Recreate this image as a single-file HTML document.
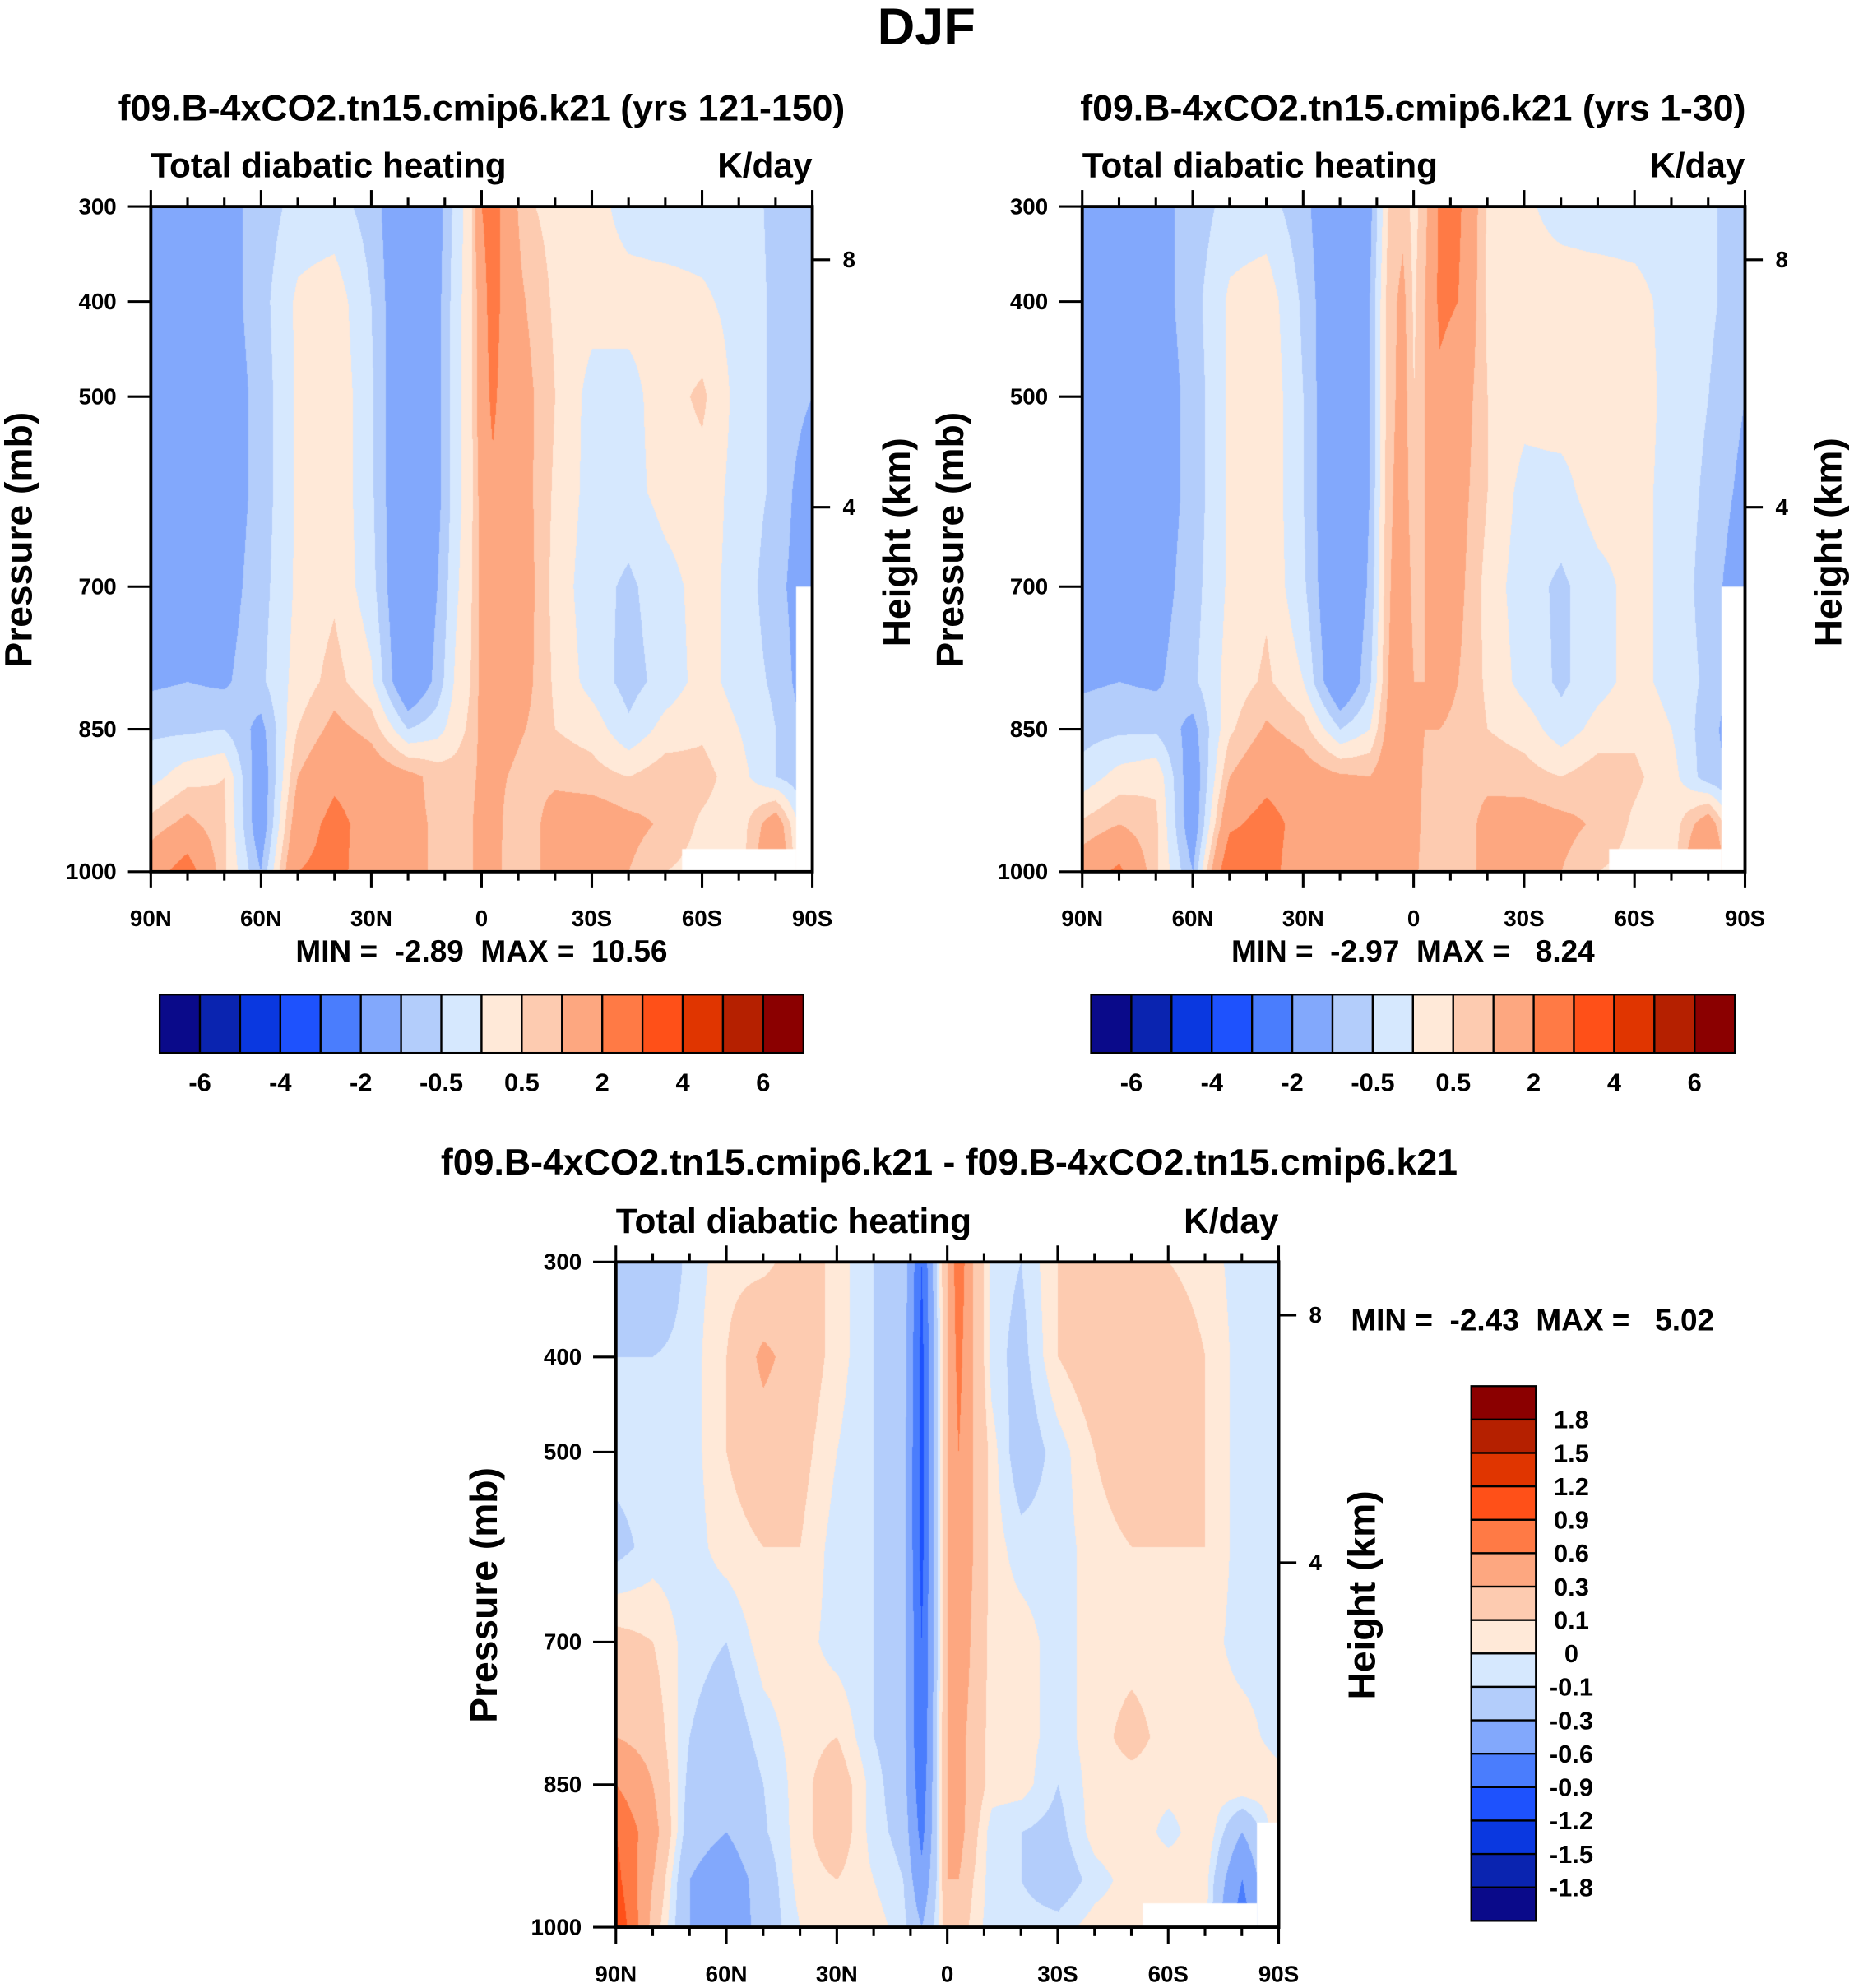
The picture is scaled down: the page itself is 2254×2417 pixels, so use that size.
<!DOCTYPE html>
<html><head><meta charset="utf-8">
<style>
html,body{margin:0;padding:0;background:#fff;}
#wrap{position:relative;width:2254px;height:2417px;overflow:hidden;background:#fff;}
canvas{position:absolute;}
svg{position:absolute;left:0;top:0;}
text{font-family:"Liberation Sans",Arial,sans-serif;font-weight:bold;fill:#000;}
</style></head>
<body>
<div id="wrap">
<svg id="svg" width="2254" height="2417" viewBox="0 0 1463 1569" preserveAspectRatio="none">
<text x="731" y="35" font-size="41" text-anchor="middle">DJF</text>
<text x="380" y="95" font-size="29" text-anchor="middle">f09.B-4xCO2.tn15.cmip6.k21 (yrs 121-150)</text>
<text x="1115" y="95" font-size="29" text-anchor="middle">f09.B-4xCO2.tn15.cmip6.k21 (yrs 1-30)</text>
<text x="749" y="927" font-size="29" text-anchor="middle">f09.B-4xCO2.tn15.cmip6.k21 - f09.B-4xCO2.tn15.cmip6.k21</text>
<text x="119" y="140" font-size="27.5">Total diabatic heating</text>
<text x="641" y="140" font-size="27.5" text-anchor="end">K/day</text>
<text x="854" y="140" font-size="27.5">Total diabatic heating</text>
<text x="1377" y="140" font-size="27.5" text-anchor="end">K/day</text>
<text x="486" y="973" font-size="27.5">Total diabatic heating</text>
<text x="1009" y="973" font-size="27.5" text-anchor="end">K/day</text>
<text x="380" y="759" font-size="24" text-anchor="middle" xml:space="preserve">MIN =  -2.89  MAX =  10.56</text>
<text x="1115" y="759" font-size="24" text-anchor="middle" xml:space="preserve">MIN =  -2.97  MAX =   8.24</text>
<text x="1066" y="1050" font-size="24" xml:space="preserve">MIN =  -2.43  MAX =   5.02</text>
<text transform="translate(25,426) rotate(-90)" font-size="30" text-anchor="middle">Pressure (mb)</text>
<text transform="translate(760,426) rotate(-90)" font-size="30" text-anchor="middle">Pressure (mb)</text>
<text transform="translate(392,1259) rotate(-90)" font-size="30" text-anchor="middle">Pressure (mb)</text>
<text transform="translate(718,428) rotate(-90)" font-size="30" text-anchor="middle">Height (km)</text>
<text transform="translate(1453,428) rotate(-90)" font-size="30" text-anchor="middle">Height (km)</text>
<text transform="translate(1085,1259) rotate(-90)" font-size="30" text-anchor="middle">Height (km)</text>
</svg>
</div>
<script>
// ---------- data ----------
const lats = [90,80,70,60,50,40,30,20,12,7,3,0,-3,-7,-12,-20,-30,-40,-50,-60,-70,-80,-90];
const pressures = [300,400,500,600,700,800,850,900,950,1000];
const fieldA = [
[-1.0,-1.2,-1.2,-0.8,-0.3,-0.3,-0.7,-1.8,-1.3,-0.3,0.3,2.0,2.5,1.5,0.6,0.3,0.2,-0.2,-0.3,-0.3,-0.3,-0.6,-1],
[-1.6,-1.6,-1.3,-0.7,0.1,0.3,-0.5,-1.8,-1.2,-0.2,0.3,1.5,2.5,1.5,1.0,0.4,0.2,0.2,0.2,0.1,-0.2,-0.6,-1],
[-1.7,-1.7,-1.4,-0.8,0.1,0.4,-0.4,-1.9,-1.2,-0.2,0.3,1.5,2.2,1.5,1.2,0.5,-0.2,-0.2,0.3,0.6,-0.2,-0.6,-1],
[-1.8,-1.7,-1.4,-0.8,0.1,0.4,-0.4,-1.9,-1.2,-0.2,0.3,1.3,1.8,1.5,1.2,0.4,-0.2,-0.2,0.2,0.3,-0.2,-0.6,-1.5],
[-1.6,-1.5,-1.3,-0.7,0.1,0.4,-0.3,-1.9,-1.0,-0.1,0.4,1.2,1.5,1.5,1.3,0.3,-0.3,-0.6,-0.2,0.2,-0.2,-0.8,-1.5],
[-1.1,-1.0,-1.1,-0.6,0.2,0.7,0.1,-1.8,-0.8,0.1,0.5,1.2,1.4,1.4,1.2,0.4,-0.2,-0.7,-0.3,0.2,-0.2,-0.6,-1.5],
[-0.6,-0.6,-0.5,-1.2,0.5,1.2,0.8,-0.5,-0.2,0.3,0.6,1.2,1.3,1.2,1.0,0.5,0.3,-0.4,0.2,0.4,0.0,-0.5,-1.2],
[-0.2,0.3,0.5,-1.5,1.0,1.8,1.5,1.2,0.8,0.7,0.8,1.2,1.3,1.0,0.8,0.8,0.7,0.5,0.8,0.7,0.2,-0.5,-1],
[0.7,1.2,0.6,-1.5,1.5,2.3,1.6,1.2,0.9,0.8,0.9,1.4,1.4,0.8,0.5,1.5,1.5,1.2,0.9,0.4,0.2,1.5,-1],
[1.5,2.5,0.6,-1.0,2.0,2.3,1.5,1.2,0.9,0.8,0.9,1.3,1.3,0.8,0.5,1.5,1.4,1.0,0.5,0.3,0.2,2.0,-1]
];
const fieldB = [
[-1.0,-1.2,-1.2,-0.8,-0.3,-0.3,-0.8,-1.8,-1.2,0.5,0.8,0.3,0.8,2.2,2.2,0.4,0.1,-0.2,-0.3,-0.3,-0.3,-0.4,-0.8],
[-1.6,-1.6,-1.3,-0.7,0.1,0.3,-0.6,-1.8,-1.0,0.7,1.2,0.4,1.0,2.2,2.0,0.4,0.2,0.3,0.3,0.2,-0.2,-0.4,-0.8],
[-1.7,-1.7,-1.4,-0.8,0.1,0.4,-0.5,-1.9,-1.0,0.7,1.3,0.5,1.0,1.8,1.5,0.5,0.2,0.3,0.3,0.3,-0.2,-0.5,-1],
[-1.8,-1.7,-1.4,-0.8,0.1,0.4,-0.5,-1.9,-1.0,0.8,1.4,0.6,1.0,1.5,1.3,0.5,-0.2,-0.2,0.3,0.2,-0.2,-0.6,-1.2],
[-1.6,-1.5,-1.3,-0.7,0.1,0.4,-0.4,-1.9,-0.9,0.9,1.5,0.8,1.0,1.4,1.2,0.3,-0.3,-0.6,-0.2,0.2,-0.2,-0.7,-1.5],
[-1.1,-1.0,-1.1,-0.6,0.2,0.6,0.0,-1.8,-0.6,1.0,1.6,1.0,1.0,1.2,1.0,0.4,-0.2,-0.6,-0.2,0.2,-0.2,-0.6,-1.5],
[-0.7,-0.6,-0.6,-1.2,0.4,1.1,0.7,-0.5,0.0,1.2,1.8,1.2,1.0,1.0,0.9,0.5,0.3,-0.3,0.2,0.4,0.0,-0.8,-1.5],
[-0.3,0.2,0.4,-1.5,1.0,1.7,1.4,1.1,1.0,1.5,2.0,1.3,0.9,0.8,0.7,0.8,0.7,0.5,0.8,0.6,0.2,-0.8,-1.2],
[0.6,1.0,0.6,-1.5,1.8,2.4,1.6,1.2,1.1,1.6,2.0,1.3,0.8,0.6,0.5,1.3,1.4,1.2,0.9,0.4,0.2,1.5,-1],
[1.5,2.2,0.6,-1.0,3.0,2.3,1.5,1.2,1.1,1.6,2.0,1.2,0.7,0.6,0.5,1.3,1.3,1.0,0.5,0.3,0.2,2.5,-1]
];
const fieldDiff = [
[-0.2,-0.3,-0.05,0.05,0.05,0.2,0.05,-0.1,-0.15,-0.9,-0.1,0.3,0.8,0.3,-0.05,-0.1,0.1,0.2,0.2,0.1,0.05,-0.05,-0.05],
[-0.1,-0.1,-0.05,0.1,0.35,0.2,0.05,-0.1,-0.15,-1.0,-0.15,0.3,0.7,0.3,-0.05,-0.15,0.1,0.2,0.3,0.2,0.1,-0.05,-0.05],
[-0.05,-0.05,-0.05,0.1,0.2,0.15,0.0,-0.1,-0.2,-1.0,-0.15,0.3,0.6,0.3,0.05,-0.2,-0.05,0.1,0.2,0.25,0.1,-0.05,-0.05],
[-0.15,-0.05,-0.05,0.05,0.1,0.1,-0.05,-0.1,-0.2,-1.0,-0.15,0.3,0.5,0.3,0.05,-0.05,-0.05,0.05,0.1,0.1,0.1,-0.05,-0.05],
[0.15,0.1,-0.05,-0.1,0.05,0.05,-0.05,-0.1,-0.2,-0.9,-0.15,0.3,0.5,0.25,0.05,0.05,-0.05,0.05,0.05,0.05,0.05,-0.05,-0.05],
[0.3,0.2,-0.1,-0.2,-0.05,0.05,0.1,-0.1,-0.2,-0.9,-0.1,0.3,0.4,0.2,0.05,0.05,-0.05,0.05,0.15,0.05,0.05,0.05,-0.05],
[0.6,0.3,-0.15,-0.25,-0.1,0.05,0.2,-0.05,-0.2,-0.8,-0.1,0.3,0.4,0.2,0.05,0.05,-0.1,0.05,0.05,0.05,0.05,0.1,0.05],
[0.9,0.4,-0.2,-0.3,-0.12,0.05,0.2,-0.05,-0.15,-0.7,-0.1,0.3,0.4,0.15,-0.05,-0.1,-0.15,0.05,0.1,-0.05,0.1,-0.3,0.1],
[1.0,0.3,-0.3,-0.45,-0.2,0.05,0.1,0.0,-0.1,-0.5,-0.1,0.3,0.3,0.1,-0.05,-0.1,-0.2,-0.05,0.05,0.1,0.05,-0.6,0.1],
[1.2,0.2,-0.3,-0.5,-0.2,0.0,0.05,0.05,-0.05,-0.3,-0.05,0.2,0.2,0.05,-0.05,-0.05,-0.05,0.05,0.05,0.1,0.05,-0.8,0.1]
];
const levelsTop = [-6,-5,-4,-3,-2,-1,-0.5,0,0.5,1,2,3,4,5,6];
const levelsDiff = [-1.8,-1.5,-1.2,-0.9,-0.6,-0.3,-0.1,0,0.1,0.3,0.6,0.9,1.2,1.5,1.8];
const topBarLabels = ["-6","-4","-2","-0.5","0.5","2","4","6"];
const diffBarLabels = ["1.8","1.5","1.2","0.9","0.6","0.3","0.1","0","-0.1","-0.3","-0.6","-0.9","-1.2","-1.5","-1.8"];
const latTickLabels = ["90N","60N","30N","0","30S","60S","90S"];
const latTickValues = [90,60,30,0,-30,-60,-90];
const pressureTicks = [300,400,500,700,850,1000];
const heightTicks = [8,4];
const missingA = [[-85.5,-90,700,1000],[-54.5,-85.5,976,1000]];
const missingB = [[-83.5,-90,700,1000],[-53,-83.5,976,1000]];
const missingD = [[-84,-90,890,1000],[-53,-84,975,1000]];
const palette = ["#0a0a8a","#0a24b0","#0a38e0","#1e52fd","#4a7dfd","#82a8fc","#b3cdfb","#d6e8fe","#ffe9d8","#fdcbb0","#fda780","#ff7a45","#ff5018","#e03500","#b52000","#8b0000"];

// ---------- rendering ----------
const SX = 2254/1463, SY = 2417/1569;
const NS = "http://www.w3.org/2000/svg";
const svg = document.getElementById('svg');
const wrap = document.getElementById('wrap');
function hexRGB(h){return [parseInt(h.substr(1,2),16),parseInt(h.substr(3,2),16),parseInt(h.substr(5,2),16)];}
const palRGB = palette.map(hexRGB);

function sample(field, lat, p){
  let m = 0; while (m < lats.length-2 && lat < lats[m+1]) m++;
  let k = 0; while (k < pressures.length-2 && p > pressures[k+1]) k++;
  const tx = (lats[m]-lat)/(lats[m]-lats[m+1]);
  const ty = (p-pressures[k])/(pressures[k+1]-pressures[k]);
  const a = field[k][m], b = field[k][m+1], c = field[k+1][m], d = field[k+1][m+1];
  return (a*(1-tx)+b*tx)*(1-ty) + (c*(1-tx)+d*tx)*ty;
}
function drawField(name, px, py, pw, ph, field, levels, missing){
  const c = document.createElement('canvas');
  
  
  const L = Math.round(px*SX), T = Math.round(py*SY);
  const W = Math.round((px+pw)*SX)-L, H = Math.round((py+ph)*SY)-T;
  c.width = W; c.height = H;
  c.style.left = L+'px'; c.style.top = T+'px';
  const ctx = c.getContext('2d');
  const img = ctx.createImageData(W,H);
  for (let y=0;y<H;y++){
    const p = 300 + 700*(y+0.5)/H;
    for (let x=0;x<W;x++){
      const lat = 90 - 180*(x+0.5)/W;
      const v = sample(field, lat, p);
      let idx = 0; while (idx < levels.length && v >= levels[idx]) idx++;
      const col = palRGB[idx];
      const o = (y*W+x)*4;
      img.data[o]=col[0]; img.data[o+1]=col[1]; img.data[o+2]=col[2]; img.data[o+3]=255;
    }
  }
  ctx.putImageData(img,0,0);
  ctx.fillStyle = '#fff';
  missing.forEach(r=>{
    const x0 = (90-r[0])/180*W, x1 = (90-r[1])/180*W;
    const y0 = (r[2]-300)/700*H, y1 = (r[3]-300)/700*H;
    ctx.fillRect(x0,y0,x1-x0,y1-y0);
  });
  wrap.insertBefore(c, svg);
}
function line(x1,y1,x2,y2,w){
  const l = document.createElementNS(NS,'line');
  l.setAttribute('x1',x1);l.setAttribute('y1',y1);l.setAttribute('x2',x2);l.setAttribute('y2',y2);
  l.setAttribute('stroke','#000');l.setAttribute('stroke-width',w||2);
  svg.appendChild(l); return l;
}
function txt(x,y,s,size,anchor){
  const t = document.createElementNS(NS,'text');
  t.setAttribute('x',x);t.setAttribute('y',y);t.setAttribute('font-size',size);
  t.setAttribute('text-anchor',anchor||'middle');
  t.textContent = s; svg.appendChild(t); return t;
}
function heightToP(z){return 1013.25*Math.pow(1-2.25577e-5*z*1000,5.25588);}
function axes(prefix, px, py, pw, ph){
  const xs = lat => px + (90-lat)/180*pw;
  const ys = p => py + (p-300)/700*ph;
  const fr = document.createElementNS(NS,'rect');
  fr.setAttribute('x',px);fr.setAttribute('y',py);fr.setAttribute('width',pw);fr.setAttribute('height',ph);
  fr.setAttribute('fill','none');fr.setAttribute('stroke','#000');fr.setAttribute('stroke-width',2.5);
  
  
  svg.appendChild(fr);
  for (let lat=90; lat>=-90; lat-=10){
    const major = lat%30===0;
    const len = major?13:7;
    const t1 = line(xs(lat),py+ph,xs(lat),py+ph+len,2);
    
    
    const t2 = line(xs(lat),py,xs(lat),py-len,2);
    
    
  }
  latTickLabels.forEach((s,i)=>{
    const t = txt(xs(latTickValues[i]), py+ph+43, s, 18);
    
    
  });
  pressureTicks.forEach(p=>{
    const l = line(px-18, ys(p), px, ys(p), 2);
    
    
    const t = txt(px-27, ys(p)+6, String(p), 18, 'end');
    
    
  });
  heightTicks.forEach(z=>{
    const y = ys(heightToP(z));
    const l = line(px+pw, y, px+pw+14, y, 2);
    
    
    const t = txt(px+pw+29, y+6, String(z), 18);
    
    
  });
}
function hbar(prefix, x0, y0, w, h, labels){
  const n = palette.length, bw = w/n;
  palette.forEach((col,i)=>{
    const r = document.createElementNS(NS,'rect');
    r.setAttribute('x',x0+i*bw);r.setAttribute('y',y0);r.setAttribute('width',bw);r.setAttribute('height',h);
    r.setAttribute('fill',col);r.setAttribute('stroke','#000');r.setAttribute('stroke-width',1.5);
    
    
    svg.appendChild(r);
  });
  labels.forEach((s,i)=>{
    const t = txt(x0+(1+2*i)*bw, y0+h+30, s, 20);
    
    
  });
}
function vbar(prefix, x0, y0, w, h, labels){
  const n = palette.length, bh = h/n;
  for (let i=0;i<n;i++){
    const r = document.createElementNS(NS,'rect');
    r.setAttribute('x',x0);r.setAttribute('y',y0+i*bh);r.setAttribute('width',w);r.setAttribute('height',bh);
    r.setAttribute('fill',palette[n-1-i]);r.setAttribute('stroke','#000');r.setAttribute('stroke-width',1.5);
    
    
    svg.appendChild(r);
  }
  labels.forEach((s,i)=>{
    const t = txt(x0+w+28, y0+(i+1)*bh+7, s, 20);
    
    
  });
}

drawField('panel1-contour-field', 119,163,522,525, fieldA, levelsTop, missingA);
drawField('panel2-contour-field', 854,163,523,525, fieldB, levelsTop, missingB);
drawField('diff-contour-field', 486,996,523,525, fieldDiff, levelsDiff, missingD);
axes('panel1',119,163,522,525);
axes('panel2',854,163,523,525);
axes('diff',486,996,523,525);
hbar('panel1',126,785,508,46,topBarLabels);
hbar('panel2',861,785,508,46,topBarLabels);
vbar('diff',1161,1094,51,422,diffBarLabels);
</script>
</body></html>
